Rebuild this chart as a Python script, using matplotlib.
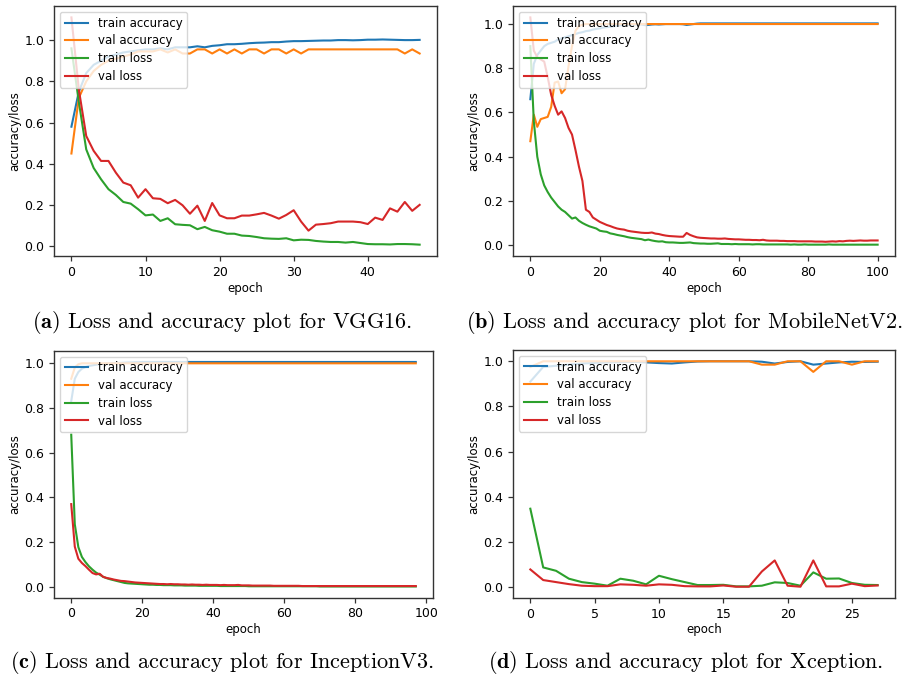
import matplotlib
matplotlib.use('Agg')
import matplotlib.pyplot as plt


# ---- (a) VGG16, 48 epochs ----
vgg_train_acc = [0.58, 0.75, 0.84, 0.88, 0.90, 0.92, 0.93, 0.94, 0.945, 0.95,
                 0.955, 0.955, 0.96, 0.955, 0.965, 0.965, 0.965, 0.97, 0.965, 0.972,
                 0.975, 0.98, 0.98, 0.982, 0.985, 0.987, 0.988, 0.99, 0.99, 0.993,
                 0.995, 0.995, 0.996, 0.997, 0.998, 0.998, 1.0, 1.0, 0.999, 1.0,
                 1.002, 1.002, 1.003, 1.002, 1.001, 1.0, 1.0, 1.001]
vgg_val_acc = [0.45, 0.72, 0.80, 0.85, 0.88, 0.90, 0.91, 0.92, 0.93, 0.945,
               0.945, 0.945, 0.955, 0.94, 0.955, 0.935, 0.935, 0.955, 0.955, 0.935,
               0.955, 0.935, 0.955, 0.935, 0.955, 0.955, 0.935, 0.955, 0.955, 0.935,
               0.955, 0.935, 0.955, 0.955, 0.955, 0.955, 0.955, 0.955, 0.955, 0.955,
               0.955, 0.955, 0.955, 0.955, 0.955, 0.935, 0.955, 0.935]
vgg_train_loss = [0.96, 0.70, 0.47, 0.38, 0.325, 0.277, 0.249, 0.215, 0.207, 0.18,
                  0.15, 0.154, 0.123, 0.136, 0.107, 0.104, 0.102, 0.083, 0.094, 0.078,
                  0.071, 0.061, 0.061, 0.052, 0.050, 0.045, 0.039, 0.037, 0.036, 0.039,
                  0.029, 0.032, 0.031, 0.026, 0.023, 0.021, 0.021, 0.018, 0.021, 0.016,
                  0.011, 0.010, 0.010, 0.009, 0.011, 0.011, 0.010, 0.008]
vgg_val_loss = [1.11, 0.76, 0.535, 0.463, 0.414, 0.414, 0.357, 0.309, 0.296, 0.236,
                0.277, 0.233, 0.230, 0.209, 0.225, 0.199, 0.158, 0.197, 0.123, 0.210,
                0.150, 0.136, 0.136, 0.149, 0.149, 0.155, 0.162, 0.149, 0.134, 0.152,
                0.175, 0.120, 0.076, 0.105, 0.108, 0.112, 0.120, 0.120, 0.120, 0.117,
                0.108, 0.139, 0.128, 0.184, 0.168, 0.215, 0.172, 0.201]

# ---- (b) MobileNetV2, 101 epochs ----
mob_train_acc = [0.66, 0.82, 0.86, 0.88, 0.90, 0.91, 0.915, 0.92, 0.93, 0.935,
                 0.94, 0.945, 0.95, 0.955, 0.96, 0.963, 0.968, 0.97, 0.975, 0.978,
                 0.98, 0.984, 0.986, 0.988, 0.99, 0.992, 0.994, 0.996, 0.997, 0.998,
                 0.998, 0.999, 0.998, 0.995, 0.996, 0.998, 0.999, 0.998, 0.999, 1.0,
                 1.0, 1.0, 1.0, 1.0, 0.999, 0.996, 0.998, 1.0, 1.002, 1.003,
                 1.003, 1.003, 1.003, 1.003, 1.003, 1.003, 1.003, 1.003, 1.003, 1.003,
                 1.003, 1.003, 1.003, 1.003, 1.003, 1.003, 1.003, 1.003, 1.003, 1.003,
                 1.003, 1.003, 1.003, 1.003, 1.003, 1.003, 1.003, 1.003, 1.003, 1.003,
                 1.003, 1.003, 1.003, 1.003, 1.003, 1.003, 1.003, 1.003, 1.003, 1.003,
                 1.003, 1.003, 1.003, 1.003, 1.003, 1.003, 1.003, 1.003, 1.003, 1.003,
                 1.003]
mob_val_acc = [0.47, 0.59, 0.535, 0.57, 0.575, 0.58, 0.625, 0.735, 0.74, 0.687,
               0.705, 0.81, 0.90, 0.97, 0.99, 0.997, 1.0, 1.0, 1.0, 1.0,
               1.0, 1.0, 1.0, 1.0, 1.0, 1.0, 1.0, 1.0, 1.0, 1.0,
               1.0, 1.0, 1.0, 1.0, 1.0, 1.0, 1.0, 1.0, 1.0, 1.0,
               1.0, 1.0, 1.0, 1.0, 1.0, 1.0, 1.0, 1.0, 1.0, 1.0,
               1.0, 1.0, 1.0, 1.0, 1.0, 1.0, 1.0, 1.0, 1.0, 1.0,
               1.0, 1.0, 1.0, 1.0, 1.0, 1.0, 1.0, 1.0, 1.0, 1.0,
               1.0, 1.0, 1.0, 1.0, 1.0, 1.0, 1.0, 1.0, 1.0, 1.0,
               1.0, 1.0, 1.0, 1.0, 1.0, 1.0, 1.0, 1.0, 1.0, 1.0,
               1.0, 1.0, 1.0, 1.0, 1.0, 1.0, 1.0, 1.0, 1.0, 1.0,
               1.0]
mob_train_loss = [0.90, 0.56, 0.40, 0.32, 0.27, 0.24, 0.215, 0.195, 0.175, 0.16,
                  0.15, 0.135, 0.12, 0.125, 0.11, 0.10, 0.092, 0.085, 0.08, 0.075,
                  0.065, 0.062, 0.06, 0.053, 0.05, 0.046, 0.043, 0.04, 0.036, 0.033,
                  0.031, 0.029, 0.027, 0.022, 0.025, 0.021, 0.018, 0.016, 0.017, 0.013,
                  0.012, 0.012, 0.011, 0.010, 0.010, 0.011, 0.012, 0.009, 0.008, 0.007,
                  0.007, 0.006, 0.006, 0.007, 0.008, 0.005, 0.005, 0.005, 0.004, 0.005,
                  0.004, 0.004, 0.004, 0.004, 0.003, 0.004, 0.004, 0.003, 0.003, 0.003,
                  0.003, 0.003, 0.003, 0.003, 0.003, 0.002, 0.003, 0.002, 0.002, 0.003,
                  0.002, 0.002, 0.002, 0.002, 0.002, 0.002, 0.003, 0.002, 0.002, 0.002,
                  0.002, 0.002, 0.002, 0.002, 0.002, 0.002, 0.002, 0.002, 0.002, 0.002,
                  0.002]
mob_val_loss = [1.03, 0.88, 0.85, 0.84, 0.83, 0.76, 0.68, 0.63, 0.59, 0.605,
                0.575, 0.53, 0.50, 0.43, 0.355, 0.29, 0.16, 0.15, 0.125, 0.115,
                0.105, 0.098, 0.091, 0.086, 0.08, 0.075, 0.072, 0.07, 0.065, 0.062,
                0.06, 0.058, 0.056, 0.055, 0.055, 0.057, 0.052, 0.05, 0.046, 0.043,
                0.041, 0.04, 0.039, 0.038, 0.038, 0.055, 0.046, 0.04, 0.035, 0.033,
                0.032, 0.031, 0.03, 0.03, 0.029, 0.029, 0.03, 0.028, 0.027, 0.026,
                0.026, 0.025, 0.024, 0.024, 0.023, 0.023, 0.022, 0.024, 0.021, 0.02,
                0.02, 0.02, 0.019, 0.019, 0.018, 0.018, 0.018, 0.017, 0.017, 0.017,
                0.017, 0.017, 0.016, 0.016, 0.016, 0.015, 0.016, 0.017, 0.016, 0.018,
                0.017, 0.019, 0.02, 0.019, 0.02, 0.021, 0.02, 0.02, 0.021, 0.021,
                0.021]

# ---- (c) InceptionV3, 98 epochs ----
inc_train_acc = [0.83, 0.93, 0.96, 0.975, 0.982, 0.987, 0.99, 0.993, 0.995, 0.997,
                 0.998, 0.999, 1.0, 1.0, 1.001, 1.002, 1.003, 1.003, 1.004, 1.004,
                 1.005, 1.005, 1.005, 1.005, 1.005, 1.005, 1.005, 1.005, 1.005, 1.005,
                 1.005, 1.005, 1.005, 1.005, 1.005, 1.005, 1.005, 1.005, 1.005, 1.005,
                 1.005, 1.005, 1.005, 1.005, 1.005, 1.005, 1.005, 1.005, 1.005, 1.005,
                 1.005, 1.005, 1.005, 1.005, 1.005, 1.005, 1.005, 1.005, 1.005, 1.005,
                 1.005, 1.005, 1.005, 1.005, 1.005, 1.005, 1.005, 1.005, 1.005, 1.005,
                 1.005, 1.005, 1.005, 1.005, 1.005, 1.005, 1.005, 1.005, 1.005, 1.005,
                 1.005, 1.005, 1.005, 1.005, 1.005, 1.005, 1.005, 1.005, 1.005, 1.005,
                 1.005, 1.005, 1.005, 1.005, 1.005, 1.005, 1.005, 1.005]
inc_val_acc = [0.93, 0.98, 0.995, 0.999, 0.999, 0.999, 0.999, 0.999, 0.999, 0.999,
               0.999, 0.999, 0.999, 0.999, 0.999, 0.999, 0.999, 0.999, 0.999, 0.999,
               0.999, 0.999, 0.999, 0.999, 0.999, 0.999, 0.999, 0.999, 0.999, 0.999,
               0.999, 0.999, 0.999, 0.999, 0.999, 0.999, 0.999, 0.999, 0.999, 0.999,
               0.999, 0.999, 0.999, 0.999, 0.999, 0.999, 0.999, 0.999, 0.999, 0.999,
               0.999, 0.999, 0.999, 0.999, 0.999, 0.999, 0.999, 0.999, 0.999, 0.999,
               0.999, 0.999, 0.999, 0.999, 0.999, 0.999, 0.999, 0.999, 0.999, 0.999,
               0.999, 0.999, 0.999, 0.999, 0.999, 0.999, 0.999, 0.999, 0.999, 0.999,
               0.999, 0.999, 0.999, 0.999, 0.999, 0.999, 0.999, 0.999, 0.999, 0.999,
               0.999, 0.999, 0.999, 0.999, 0.999, 0.999, 0.999, 0.999]
inc_train_loss = [0.68, 0.28, 0.178, 0.134, 0.111, 0.092, 0.077, 0.064, 0.055, 0.045,
                  0.039, 0.034, 0.03, 0.026, 0.022, 0.018, 0.016, 0.015, 0.014, 0.013,
                  0.012, 0.011, 0.01, 0.01, 0.009, 0.009, 0.008, 0.008, 0.008, 0.007,
                  0.007, 0.007, 0.006, 0.006, 0.006, 0.006, 0.005, 0.005, 0.005, 0.005,
                  0.005, 0.005, 0.004, 0.004, 0.004, 0.004, 0.004, 0.004, 0.004, 0.004,
                  0.003, 0.003, 0.003, 0.003, 0.003, 0.003, 0.003, 0.003, 0.003, 0.003,
                  0.003, 0.003, 0.003, 0.003, 0.003, 0.003, 0.003, 0.003, 0.003, 0.003,
                  0.002, 0.002, 0.002, 0.002, 0.002, 0.002, 0.002, 0.002, 0.002, 0.002,
                  0.002, 0.002, 0.002, 0.002, 0.002, 0.002, 0.002, 0.002, 0.002, 0.002,
                  0.002, 0.002, 0.002, 0.002, 0.002, 0.002, 0.002, 0.002]
inc_val_loss = [0.37, 0.18, 0.126, 0.107, 0.093, 0.077, 0.062, 0.056, 0.059, 0.045,
                0.04, 0.037, 0.033, 0.03, 0.027, 0.026, 0.024, 0.022, 0.02, 0.019,
                0.018, 0.017, 0.016, 0.015, 0.014, 0.013, 0.013, 0.012, 0.013, 0.012,
                0.012, 0.011, 0.011, 0.01, 0.011, 0.01, 0.01, 0.009, 0.01, 0.009,
                0.009, 0.009, 0.008, 0.009, 0.008, 0.008, 0.008, 0.009, 0.007, 0.007,
                0.007, 0.006, 0.006, 0.006, 0.006, 0.006, 0.006, 0.005, 0.005, 0.005,
                0.005, 0.005, 0.005, 0.005, 0.005, 0.004, 0.004, 0.004, 0.004, 0.004,
                0.004, 0.004, 0.004, 0.004, 0.004, 0.004, 0.004, 0.004, 0.004, 0.004,
                0.004, 0.004, 0.004, 0.004, 0.004, 0.004, 0.004, 0.004, 0.004, 0.004,
                0.004, 0.004, 0.004, 0.004, 0.004, 0.004, 0.004, 0.004]

# ---- (d) Xception, 28 epochs ----
xce_train_acc = [0.91, 0.975, 0.98, 0.985, 0.99, 0.993, 0.995, 0.996, 0.997, 0.995,
                 0.992, 0.99, 0.995, 0.999, 1.0, 1.0, 1.0, 1.0, 0.998, 0.99,
                 0.997, 1.0, 0.985, 0.99, 0.995, 0.998, 0.997, 0.998]
xce_val_acc = [0.975, 1.0, 1.0, 1.0, 1.0, 1.0, 1.0, 1.0, 1.0, 1.0,
               1.0, 1.0, 1.0, 1.0, 1.0, 1.0, 1.0, 1.0, 0.985, 0.985,
               1.0, 1.0, 0.953, 1.0, 1.0, 0.985, 1.0, 1.0]
xce_train_loss = [0.347, 0.087, 0.072, 0.037, 0.022, 0.015, 0.006, 0.037, 0.028, 0.012,
                  0.05, 0.035, 0.022, 0.009, 0.009, 0.01, 0.003, 0.003, 0.006, 0.021,
                  0.018, 0.006, 0.065, 0.037, 0.038, 0.018, 0.01, 0.009]
xce_val_loss = [0.078, 0.031, 0.022, 0.013, 0.006, 0.004, 0.004, 0.012, 0.01, 0.006,
                0.012, 0.01, 0.004, 0.003, 0.003, 0.007, 0.0015, 0.0015, 0.069, 0.118,
                0.006, 0.0015, 0.118, 0.003, 0.003, 0.015, 0.004, 0.007]

captions = ['(a)', '(b)', '(c)', '(d)']
models = ['VGG16', 'MobileNetV2', 'InceptionV3', 'Xception']
series_names = ['train accuracy', 'val accuracy', 'train loss', 'val loss']

# Computer Modern captions, bold panel letter via mathtext
plt.rcParams['mathtext.fontset'] = 'cm'

fig = plt.figure(figsize=(9.17, 6.8), dpi=100)

boxes = [[0.0589, 0.6235, 0.4177, 0.3676],
         [0.5594, 0.6235, 0.4166, 0.3676],
         [0.0589, 0.1210, 0.4133, 0.3632],
         [0.5594, 0.1206, 0.4166, 0.3647]]
caption_pos = [(0.242, 0.5255), (0.7465, 0.5255), (0.2426, 0.025), (0.748, 0.025)]

panels = [
    (vgg_train_acc, vgg_val_acc, vgg_train_loss, vgg_val_loss),
    (mob_train_acc, mob_val_acc, mob_train_loss, mob_val_loss),
    (inc_train_acc, inc_val_acc, inc_train_loss, inc_val_loss),
    (xce_train_acc, xce_val_acc, xce_train_loss, xce_val_loss),
]
colors = ['#1f77b4', '#ff7f0e', '#2ca02c', '#d62728']

for i, series in enumerate(panels):
    ax = fig.add_axes(boxes[i])
    for vals, name, col in zip(series, series_names, colors):
        ax.plot(range(len(vals)), vals, label=name, color=col, linewidth=1.5)
    ax.set_xlabel('epoch', fontsize=8.5, labelpad=2)
    ax.set_ylabel('accuracy/loss', fontsize=8.5, labelpad=2)
    ax.tick_params(labelsize=9, color='#333333', width=0.9)
    for sp in ax.spines.values():
        sp.set_color('#333333')
        sp.set_linewidth(1.0)
    if i == 3:
        ax.set_xticks([0, 5, 10, 15, 20, 25])
    ax.legend(loc='upper left', fontsize=8.5, framealpha=0.8,
              labelspacing=0.4)

    cx, cy = caption_pos[i]
    fig.text(cx, cy, r'$\mathbf{' + captions[i] + '}$ Loss and accuracy plot for '
             + models[i] + '.', ha='center', va='center',
             family='cmr10', fontsize=16)

fig.savefig('out.png', dpi=100)
